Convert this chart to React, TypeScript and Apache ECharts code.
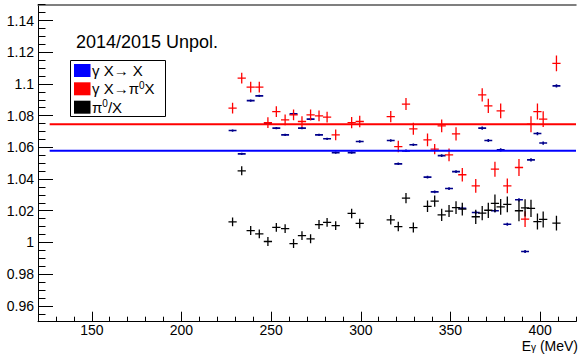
import React, { useEffect, useRef } from 'react';
import * as echarts from 'echarts';

// ---- Data ----
const energies = [228.5, 233.6, 238.6, 243.4, 248.2, 252.9, 257.8, 262.5, 267.2, 272, 276.7, 281.2, 286,
  294.9, 299.4, 316.7, 320.9, 325.2, 329.3, 337.2, 341.2, 345.1, 349.2, 353.1, 356.6,
  364.1, 367.7, 371.1, 374.8, 378, 381.7, 388.2, 391.6, 394.9, 398.5, 401.7, 409.1];

const redValues = [1.0847, 1.1037, 1.098, 1.098, 1.0756, 1.0826, 1.0773, 1.0805, 1.0763, 1.0805, 1.0799, 1.0791, 1.0679,
  1.0756, 1.0763, 1.0794, 1.0605, 1.0873, 1.0717, 1.0647, 1.0589, 1.0736, 1.0553, 1.0685, 1.0427,
  1.0357, 1.0931, 1.0862, 1.0462, 1.083, 1.0357, 1.0473, 1.0147, 1.0746, 1.0826, 1.0778, 1.113];
const redErrors = [0.0034, 0.0034, 0.0034, 0.0034, 0.0034, 0.0034, 0.0034, 0.0034, 0.0034, 0.0034, 0.0034, 0.0034, 0.0034,
  0.0036, 0.0036, 0.0036, 0.0036, 0.0038, 0.0038, 0.004, 0.0032, 0.004, 0.004, 0.0042, 0.0042,
  0.0044, 0.0042, 0.0045, 0.0047, 0.0047, 0.0047, 0.0053, 0.005, 0.005, 0.005, 0.005, 0.005];

const blueValues = [1.0706, 1.0559, 1.0895, 1.0925, 1.075, 1.0721, 1.0679, 1.0811, 1.0721, 1.0778, 1.0679, 1.0654, 1.0567,
  1.0567, 1.0637, 1.0643, 1.0496, 1.0578, 1.0616, 1.0412, 1.0319, 1.0548, 1.034, 1.0447, 1.0216,
  1.0189, 1.0721, 1.0643, 1.02, 1.0584, 1.0115, 1.0269, 0.9943, 1.0521, 1.0687, 1.0627, 1.0988];
const blueErrors = [0.0007, 0.0007, 0.0007, 0.0007, 0.0007, 0.0007, 0.0007, 0.0007, 0.0007, 0.0007, 0.0007, 0.0007, 0.0007,
  0.0008, 0.0008, 0.0008, 0.0008, 0.0008, 0.0008, 0.0009, 0.0009, 0.0009, 0.0009, 0.0009, 0.0009,
  0.001, 0.001, 0.001, 0.001, 0.001, 0.001, 0.001, 0.001, 0.001, 0.001, 0.001, 0.001];

const blackValues = [1.013, 1.0452, 1.0075, 1.0054, 1.0006, 1.0095, 1.0087, 0.9993, 1.0043, 1.0023, 1.0113, 1.0127, 1.0106,
  1.0183, 1.012, 1.0143, 1.01, 1.028, 1.0094, 1.0228, 1.0261, 1.0174, 1.0198, 1.022, 1.021,
  1.0162, 1.0185, 1.0203, 1.0247, 1.0224, 1.024, 1.02, 1.0218, 1.0215, 1.0132, 1.0145, 1.0122];
const blackErrors = [0.0028, 0.0028, 0.0028, 0.0028, 0.0028, 0.0028, 0.0028, 0.0028, 0.0028, 0.0028, 0.0028, 0.0028, 0.0028,
  0.003, 0.003, 0.003, 0.003, 0.0032, 0.0032, 0.0036, 0.0036, 0.0038, 0.0038, 0.004, 0.004,
  0.0045, 0.0045, 0.0048, 0.0056, 0.005, 0.005, 0.0066, 0.0055, 0.0055, 0.005, 0.005, 0.0046];

const crossHalfWidth = 2.3; // MeV
const blueHalfWidth = 2.2; // MeV

const redFitLevel = 1.0746;
const blueFitLevel = 1.0578;
const fitRange = [126.5, 420];

const xTickLabels = ['150', '200', '250', '300', '350', '400'];
const yTickLabels = ['0.96', '0.98', '1', '1.02', '1.04', '1.06', '1.08', '1.1', '1.12', '1.14'];

const titleText = '2014/2015 Unpol.';

// ---- Chart ----
const FONT = '"Liberation Sans", Arial, Helvetica, sans-serif';

const xMajor = xTickLabels.map(Number);
const yMajor = yTickLabels.map(Number);

function rowsOf(values: number[], errors: number[], halfWidth: number) {
  return energies.map((e, i) => [e, values[i], errors[i], halfWidth]);
}

function errorSeries(name: string, data: number[][], color: string, lw: number) {
  return {
    type: 'custom',
    name,
    xAxisIndex: 0,
    yAxisIndex: 0,
    silent: true,
    clip: true,
    encode: { x: 0, y: 1 },
    data,
    renderItem: (params: any, api: any) => {
      const x = api.value(0);
      const y = api.value(1);
      const ey = api.value(2);
      const ex = api.value(3);
      const c = api.coord([x, y]);
      const t = api.coord([x, y + ey]);
      const b = api.coord([x, y - ey]);
      const l = api.coord([x - ex, y]);
      const r = api.coord([x + ex, y]);
      return {
        type: 'group',
        children: [
          { type: 'line', shape: { x1: c[0], y1: t[1], x2: c[0], y2: b[1] }, style: { stroke: color, lineWidth: lw } },
          { type: 'line', shape: { x1: l[0], y1: c[1], x2: r[0], y2: c[1] }, style: { stroke: color, lineWidth: lw } },
        ],
      };
    },
  };
}

function labelFor(list: string[], nums: number[]) {
  return (v: number) => {
    const i = nums.findIndex((n) => Math.abs(n - v) < 1e-6);
    return i >= 0 ? list[i] : '';
  };
}

const option: any = {
  animation: false,
  backgroundColor: '#fff',
  grid: { left: 38, right: 2, top: 4.7, bottom: 33.3, containLabel: false, show: false },
  xAxis: [
    {
      type: 'value', min: 120, max: 420, interval: 10, position: 'bottom',
      axisLine: { show: true, onZero: false, lineStyle: { color: '#000', width: 1 } },
      axisTick: { show: true, inside: true, length: 5, lineStyle: { color: '#000', width: 1 } },
      axisLabel: { show: false },
      splitLine: { show: false },
    },
    {
      type: 'value', min: 120, max: 420, position: 'bottom',
      axisLine: { show: false, onZero: false },
      axisTick: { show: true, inside: true, length: 10, customValues: xMajor, lineStyle: { color: '#000', width: 1 } },
      axisLabel: {
        show: true, customValues: xMajor, formatter: labelFor(xTickLabels, xMajor),
        color: '#000', fontSize: 14, lineHeight: 12, fontFamily: FONT, margin: 2.5,
      },
      splitLine: { show: false },
    },
    {
      type: 'value', min: 120, max: 420, position: 'top',
      axisLine: { show: true, onZero: false, lineStyle: { color: '#555', width: 1.5 } },
      axisTick: { show: false },
      axisLabel: { show: false },
      splitLine: { show: false },
    },
  ],
  yAxis: [
    {
      type: 'value', min: 0.95, max: 1.15, interval: 0.005, position: 'left',
      axisLine: { show: true, onZero: false, lineStyle: { color: '#000', width: 1 } },
      axisTick: { show: true, inside: true, length: 7.5, lineStyle: { color: '#000', width: 1 } },
      axisLabel: { show: false },
      splitLine: { show: false },
    },
    {
      type: 'value', min: 0.95, max: 1.15, position: 'left',
      axisLine: { show: false, onZero: false },
      axisTick: { show: true, inside: true, length: 15, customValues: yMajor, lineStyle: { color: '#000', width: 1 } },
      axisLabel: {
        show: true, customValues: yMajor, formatter: labelFor(yTickLabels, yMajor),
        color: '#000', fontSize: 14, fontFamily: FONT, margin: 4,
      },
      splitLine: { show: false },
    },
  ],
  series: [
    errorSeries('γ X→ X', rowsOf(blueValues, blueErrors, blueHalfWidth), '#00008b', 1.6),
    errorSeries('γ X→π0X', rowsOf(redValues, redErrors, crossHalfWidth), '#ff0000', 1.3),
    errorSeries('π0/X', rowsOf(blackValues, blackErrors, crossHalfWidth), '#000000', 1.3),
    {
      type: 'line', xAxisIndex: 0, yAxisIndex: 0, silent: true, symbol: 'none',
      data: fitRange.map((x) => [x, redFitLevel]),
      lineStyle: { color: '#ff0000', width: 2 },
    },
    {
      type: 'line', xAxisIndex: 0, yAxisIndex: 0, silent: true, symbol: 'none',
      data: fitRange.map((x) => [x, blueFitLevel]),
      lineStyle: { color: '#0000ff', width: 2 },
    },
  ],
  graphic: [
    {
      type: 'text', x: 76, y: 41.5,
      style: {
        text: titleText, fill: '#000', fontSize: 18, fontFamily: FONT,
        align: 'left', verticalAlign: 'middle', textAlign: 'left', textVerticalAlign: 'middle',
      },
    },
    {
      type: 'rect', shape: { x: 70.5, y: 60.5, width: 95, height: 56 },
      style: { fill: '#fff', stroke: '#000', lineWidth: 1 },
    },
    { type: 'rect', shape: { x: 74, y: 64, width: 16.5, height: 13 }, style: { fill: '#0000ff' } },
    { type: 'rect', shape: { x: 74, y: 82.3, width: 16.5, height: 13 }, style: { fill: '#ff0000' } },
    { type: 'rect', shape: { x: 74, y: 100.7, width: 16.5, height: 13 }, style: { fill: '#000000' } },
    {
      type: 'text', x: 92, y: 70.5,
      style: {
        text: '{t|γ X→ X}', fill: '#000', align: 'left', verticalAlign: 'middle',
        textAlign: 'left', textVerticalAlign: 'middle',
        rich: { t: { fontSize: 15, lineHeight: 17, fontFamily: FONT, fill: '#000' } },
      },
    },
    {
      type: 'text', x: 92, y: 88.8,
      style: {
        text: '{t|γ X→π}{s|0}{t|X}', fill: '#000', align: 'left', verticalAlign: 'middle',
        textAlign: 'left', textVerticalAlign: 'middle',
        rich: {
          t: { fontSize: 15, lineHeight: 17, fontFamily: FONT, fill: '#000' },
          s: { fontSize: 10, lineHeight: 10, fontFamily: FONT, fill: '#000', verticalAlign: 'top' },
        },
      },
    },
    {
      type: 'text', x: 92, y: 107.2,
      style: {
        text: '{t|π}{s|0}{t|/X}', fill: '#000', align: 'left', verticalAlign: 'middle',
        textAlign: 'left', textVerticalAlign: 'middle',
        rich: {
          t: { fontSize: 15, lineHeight: 17, fontFamily: FONT, fill: '#000' },
          s: { fontSize: 10, lineHeight: 10, fontFamily: FONT, fill: '#000', verticalAlign: 'top' },
        },
      },
    },
    {
      type: 'text', x: 578, y: 346,
      style: {
        text: '{t|E}{s|γ}{t| (MeV)}', fill: '#000', align: 'right', verticalAlign: 'middle',
        textAlign: 'right', textVerticalAlign: 'middle',
        rich: {
          t: { fontSize: 14, lineHeight: 13, fontFamily: FONT, fill: '#000' },
          s: { fontSize: 10, lineHeight: 10, fontFamily: FONT, fill: '#000', verticalAlign: 'bottom' },
        },
      },
    },
  ],
};

export default function App() {
  const ref = useRef<HTMLDivElement>(null);
  useEffect(() => {
    if (!ref.current) return;
    const chart = echarts.init(ref.current, null, { renderer: 'svg' });
    chart.setOption(option);
    return () => chart.dispose();
  }, []);
  return (
    <div
      ref={ref}
      style={{ position: 'absolute', left: 0, top: 0, width: 578, height: 355, background: '#fff' }}
    />
  );
}
